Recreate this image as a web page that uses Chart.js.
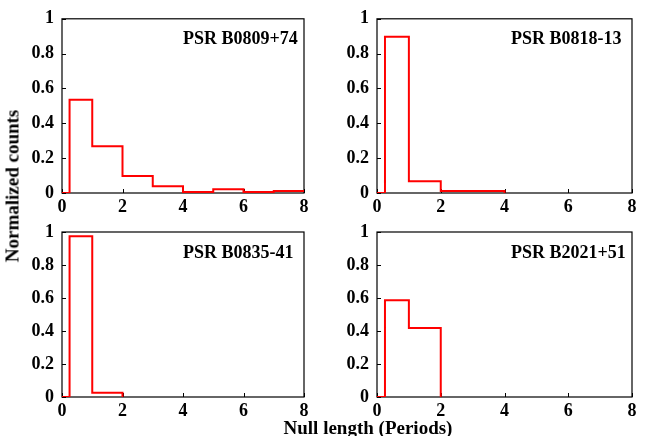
<!DOCTYPE html>
<html><head><meta charset="utf-8">
<script src="https://cdn.jsdelivr.net/npm/chart.js@4/dist/chart.umd.min.js"></script>
<style>
html,body{margin:0;padding:0;background:#fff;}
#wrap{position:relative;width:654px;height:436px;overflow:hidden;background:#fff;}
canvas{position:absolute;left:0;top:0;}
.lab{position:absolute;font-family:'Liberation Serif','Times New Roman',serif;font-weight:bold;font-size:19px;color:#000;white-space:nowrap;line-height:1;}
#xl{left:368px;top:427px;transform:translate(-50%,-50%);}
#yl{left:12px;top:186px;transform:translate(-50%,-50%) rotate(-90deg);}
</style></head><body>
<div id="wrap">
<canvas id="c0" width="654" height="436" style="width:654px;height:436px"></canvas>
<canvas id="c1" width="654" height="436" style="width:654px;height:436px"></canvas>
<canvas id="c2" width="654" height="436" style="width:654px;height:436px"></canvas>
<canvas id="c3" width="654" height="436" style="width:654px;height:436px"></canvas>
<div class="lab" id="xl">Null length (Periods)</div>
<div class="lab" id="yl">Normalized counts</div>
</div>
<script>
// ---- data ----
const pulsarNames = ['PSR B0809+74', 'PSR B0818-13', 'PSR B0835-41', 'PSR B2021+51'];
// bin left edges (null length in periods) and normalized counts; last point closes the histogram
const edgesB0809 = [0, 0.25, 1, 2, 3, 4, 5, 6, 7, 8];
const countsB0809 = [0, 0.535, 0.268, 0.097, 0.039, 0.006, 0.021, 0.006, 0.012, 0.012];
const edgesB0818 = [0, 0.25, 1, 2, 4];
const countsB0818 = [0, 0.897, 0.067, 0.012, 0];
const edgesB0835 = [0, 0.25, 1, 2];
const countsB0835 = [0, 0.974, 0.026, 0];
const edgesB2021 = [0, 0.25, 1, 2];
const countsB2021 = [0, 0.586, 0.418, 0];
const xTickValues = [0, 2, 4, 6, 8];
const xTickLabels = ['0', '2', '4', '6', '8'];
const yTickValues = [0, 0.2, 0.4, 0.6, 0.8, 1];
const yTickLabels = ['0', '0.2', '0.4', '0.6', '0.8', '1'];

// ---- layout (pixel geometry of each panel) ----
const W = 654, H = 436, YW = 50, XH = 30;
const panels = [
  {L: 62, R: 304, T: 14, B: 193, tx: 183},
  {L: 377, R: 632, T: 14, B: 193, tx: 511},
  {L: 62, R: 304, T: 232, B: 397, tx: 183},
  {L: 377, R: 632, T: 232, B: 397, tx: 511}
];
const FONT = "'Liberation Serif','Times New Roman',serif";

const panelPlugin = {
  id: 'panelDecor',
  beforeDatasetsDraw(chart) {
    const {ctx, chartArea: a, scales: {x, y}} = chart;
    ctx.save();
    ctx.strokeStyle = '#000';
    ctx.lineWidth = 1.2;
    ctx.strokeRect(a.left, a.top, a.right - a.left, a.bottom - a.top);
    ctx.lineWidth = 1;
    ctx.beginPath();
    xTickValues.forEach(v => {
      const px = Math.round(x.getPixelForValue(v)) + 0.5;
      ctx.moveTo(px, a.bottom); ctx.lineTo(px, a.bottom - 4);
    });
    yTickValues.forEach(v => {
      const py = Math.round(y.getPixelForValue(v)) + 0.5;
      ctx.moveTo(a.left, py); ctx.lineTo(a.left + 4, py);
    });
    ctx.stroke();
    ctx.restore();
  },
  afterDraw(chart, args, opts) {
    const {ctx, chartArea: a} = chart;
    ctx.save();
    ctx.fillStyle = '#000';
    ctx.font = 'bold 18px ' + FONT;
    ctx.textAlign = 'left';
    ctx.textBaseline = 'middle';
    ctx.fillText(opts.title, opts.tx, a.top + 21);
    ctx.restore();
  }
};

function makeChart(id, p, edges, counts, title) {
  const pts = edges.map((e, i) => ({x: e, y: counts[i]}));
  const tickFont = {family: FONT, weight: 'bold', size: 18};
  return new Chart(document.getElementById(id), {
    type: 'line',
    data: {datasets: [{data: pts, borderColor: '#ff0000', borderWidth: 2, stepped: true,
      pointRadius: 0, fill: false, tension: 0}]},
    options: {
      responsive: false, animation: false, events: [],
      layout: {padding: {left: p.L - YW, right: W - p.R, top: p.T, bottom: H - p.B - XH}},
      plugins: {legend: {display: false}, tooltip: {enabled: false},
        panelDecor: {title: title, tx: p.tx}},
      scales: {
        x: {type: 'linear', min: 0, max: 8,
          afterBuildTicks: s => { s.ticks = xTickValues.map(v => ({value: v})); },
          afterFit: s => { s.height = XH; },
          grid: {display: false, drawTicks: false}, border: {display: false},
          ticks: {color: '#000', font: tickFont, padding: 4, maxRotation: 0, autoSkip: false,
            callback: (v, i) => xTickLabels[i]}},
        y: {type: 'linear', min: 0, max: 1,
          afterBuildTicks: s => { s.ticks = yTickValues.map(v => ({value: v})); },
          afterFit: s => { s.width = YW; },
          grid: {display: false, drawTicks: false}, border: {display: false},
          ticks: {color: '#000', font: tickFont, padding: 8, autoSkip: false,
            callback: (v, i) => yTickLabels[i]}}
      }
    },
    plugins: [panelPlugin]
  });
}

makeChart('c0', panels[0], edgesB0809, countsB0809, pulsarNames[0]);
makeChart('c1', panels[1], edgesB0818, countsB0818, pulsarNames[1]);
makeChart('c2', panels[2], edgesB0835, countsB0835, pulsarNames[2]);
makeChart('c3', panels[3], edgesB2021, countsB2021, pulsarNames[3]);
</script>
</body></html>
